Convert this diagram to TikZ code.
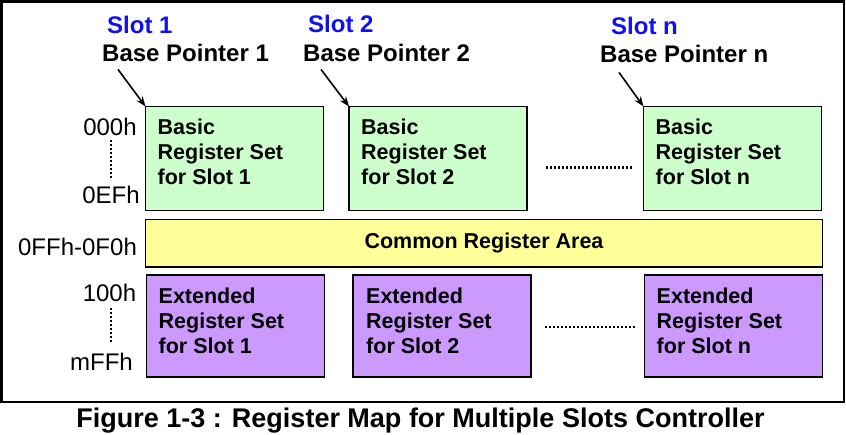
\documentclass[tikz,border=0pt]{standalone}
\usepackage{fontspec}
\setmainfont{Liberation Sans}
\usetikzlibrary{arrows.meta}
\definecolor{boxgreen}{RGB}{204,255,204}
\definecolor{boxyellow}{RGB}{255,255,153}
\definecolor{boxpurple}{RGB}{204,153,255}
\definecolor{slotblue}{RGB}{16,16,240}
\tikzset{
  regbox/.style={draw=black, line width=1.1pt, inner sep=0pt, outer sep=0pt},
  gbox/.style={regbox, fill=boxgreen, minimum width=178pt, minimum height=104pt},
  pbox/.style={regbox, fill=boxpurple, minimum width=178pt, minimum height=102pt},
  boxtext/.style={inner sep=0pt, align=left, anchor=north west, font=\bfseries\fontsize{21.5}{25}\selectfont},
  slotlbl/.style={inner sep=0pt, anchor=base west, text=slotblue, font=\bfseries\fontsize{24}{28}\selectfont},
  bplbl/.style={inner sep=0pt, anchor=base west, font=\bfseries\fontsize{24}{28}\selectfont},
  addr/.style={inner sep=3pt, anchor=base, font=\fontsize{24}{28}\selectfont},
  ptr/.style={line width=1.6pt, -{Stealth[length=10pt,width=7.5pt]}, shorten >=0pt},
  dotline/.style={line width=2.8pt, dash pattern=on 2.2pt off 1.8pt},
}
\begin{document}
\begin{tikzpicture}[x=1pt, y=-1pt]
\useasboundingbox (0,0) rectangle (846,435);
\fill[white] (0,0) rectangle (846,435);
% outer frame
\draw[line width=2.5pt] (1.5,1.5) rectangle (844,402);

% basic register boxes
\node[gbox, anchor=north west] (g1) at (145.5,106.5) {};
\node[gbox, anchor=north west] (g2) at (349,106.5) {};
\node[gbox, anchor=north west] (gn) at (643.5,106.5) {};
\node[boxtext] (g1t) at ([shift={(12,12.5)}]g1.north west) {Basic\\Register Set\\for Slot 1};
\node[boxtext] (g2t) at ([shift={(12,12.5)}]g2.north west) {Basic\\Register Set\\for Slot 2};
\node[boxtext] (gnt) at ([shift={(12,12.5)}]gn.north west) {Basic\\Register Set\\for Slot n};

% common area
\node[regbox, fill=boxyellow, minimum width=677pt, minimum height=47.5pt, anchor=north west,
      font=\bfseries\fontsize{21.5}{25}\selectfont] (common) at (145.5,219.5) {Common Register Area};

% extended register boxes
\node[pbox, anchor=north west] (p1) at (146.5,275) {};
\node[pbox, anchor=north west] (p2) at (353,275) {};
\node[pbox, anchor=north west] (pn) at (644.5,275) {};
\node[boxtext] (p1t) at ([shift={(12,12.5)}]p1.north west) {Extended\\Register Set\\for Slot 1};
\node[boxtext] (p2t) at ([shift={(13,12.5)}]p2.north west) {Extended\\Register Set\\for Slot 2};
\node[boxtext] (pnt) at ([shift={(12,12.5)}]pn.north west) {Extended\\Register Set\\for Slot n};

% slot labels
\node[slotlbl] (s1) at (107,34) {Slot 1};
\node[bplbl] (bp1) at (102,62) {Base Pointer 1};
\node[slotlbl] (s2) at (308,33) {Slot 2};
\node[bplbl] (bp2) at (303,62) {Base Pointer 2};
\node[slotlbl] (sn) at (611,35) {Slot n};
\node[bplbl] (bpn) at (600,63) {Base Pointer n};

% pointer arrows
\draw[ptr] ([shift={(16,7)}]bp1.south west) -- (g1.north west);
\draw[ptr] ([shift={(18,7)}]bp2.south west) -- (g2.north west);
\draw[ptr] ([shift={(19,9)}]bpn.south west) -- (gn.north west);

% address labels
\node[addr] (a000) at (110,136) {000h};
\node[addr] (a0EF) at (111,204) {0EFh};
\node[addr] (a0FF) at (77.5,256) {0FFh-0F0h};
\node[addr] (a100) at (109.5,302) {100h};
\node[addr] (amFF) at (101.5,371) {mFFh};
\draw[dotline] (111,140) -- (111,180);
\draw[dotline] (111,308) -- (111,342);

% ellipsis dots between slots
\draw[dotline] ([shift={(19,9)}]g2.east) -- ([shift={(-10,9)}]gn.west);
\draw[dotline] ([shift={(14,1)}]p2.east) -- ([shift={(-10,1)}]pn.west);

% caption
\node[inner sep=0pt, anchor=base, font=\bfseries\fontsize{27}{32}\selectfont] (caption) at (420.5,427.5)
  {Figure 1-3 : Register Map for Multiple Slots Controller};
\end{tikzpicture}
\end{document}
